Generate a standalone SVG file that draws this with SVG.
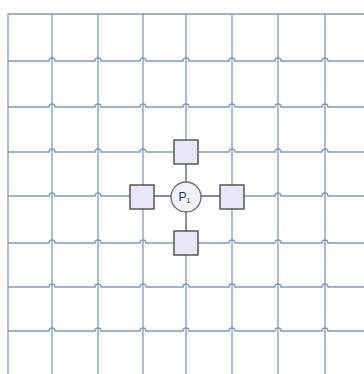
<svg xmlns="http://www.w3.org/2000/svg" width="364" height="374" viewBox="0 0 364 374">
<style>
.g{fill:none;stroke:#8399ba;stroke-width:1.3}
.c{fill:none;stroke:#7a7f8a;stroke-width:1.3}
.sq{fill:#e6e9f5;stroke:#555555;stroke-width:1.5}
.ci{fill:#f1f1f6;stroke:#666666;stroke-width:1.3}
.t{font-family:"Liberation Sans",Arial,sans-serif;font-size:12px;fill:#333}
</style>
<rect width="364" height="374" fill="#ffffff"/>
<g id="grid">
<path class="g" d="M8,14V374M52,14V374M98,14V374M143,14V374M186,14V374M232,14V374M278,14V374M325,14V374"/>
<path class="g" d="M8,14H364"/>
<path class="g" d="M8,61H49A3,3 0 0 1 55,61H95A3,3 0 0 1 101,61H140A3,3 0 0 1 146,61H183A3,3 0 0 1 189,61H229A3,3 0 0 1 235,61H275A3,3 0 0 1 281,61H322A3,3 0 0 1 328,61H364"/>
<path class="g" d="M8,107H49A3,3 0 0 1 55,107H95A3,3 0 0 1 101,107H140A3,3 0 0 1 146,107H183A3,3 0 0 1 189,107H229A3,3 0 0 1 235,107H275A3,3 0 0 1 281,107H322A3,3 0 0 1 328,107H364"/>
<path class="g" d="M8,152H49A3,3 0 0 1 55,152H95A3,3 0 0 1 101,152H140A3,3 0 0 1 146,152H183A3,3 0 0 1 189,152H229A3,3 0 0 1 235,152H275A3,3 0 0 1 281,152H322A3,3 0 0 1 328,152H364"/>
<path class="g" d="M8,196H49A3,3 0 0 1 55,196H95A3,3 0 0 1 101,196H140A3,3 0 0 1 146,196H183A3,3 0 0 1 189,196H229A3,3 0 0 1 235,196H275A3,3 0 0 1 281,196H322A3,3 0 0 1 328,196H364"/>
<path class="g" d="M8,243H49A3,3 0 0 1 55,243H95A3,3 0 0 1 101,243H140A3,3 0 0 1 146,243H183A3,3 0 0 1 189,243H229A3,3 0 0 1 235,243H275A3,3 0 0 1 281,243H322A3,3 0 0 1 328,243H364"/>
<path class="g" d="M8,287H49A3,3 0 0 1 55,287H95A3,3 0 0 1 101,287H140A3,3 0 0 1 146,287H183A3,3 0 0 1 189,287H229A3,3 0 0 1 235,287H275A3,3 0 0 1 281,287H322A3,3 0 0 1 328,287H364"/>
<path class="g" d="M8,331H49A3,3 0 0 1 55,331H95A3,3 0 0 1 101,331H140A3,3 0 0 1 146,331H183A3,3 0 0 1 189,331H229A3,3 0 0 1 235,331H275A3,3 0 0 1 281,331H322A3,3 0 0 1 328,331H364"/>
</g>
<g id="connectors">
<path class="c" d="M154,196H171M201,196H220M186,164V181M186,211V231"/>
</g>
<g id="n-top"><rect class="sq" x="174" y="140" width="24" height="24"/></g>
<g id="n-left"><rect class="sq" x="130" y="185" width="24" height="24"/></g>
<g id="n-right"><rect class="sq" x="220" y="185" width="24" height="24"/></g>
<g id="n-bottom"><rect class="sq" x="174" y="231" width="24" height="24"/></g>
<g id="p1">
<circle class="ci" cx="186" cy="197" r="15"/>
<text class="t" x="178.5" y="201">P<tspan font-size="7" dy="2">1</tspan></text>
</g>
</svg>
